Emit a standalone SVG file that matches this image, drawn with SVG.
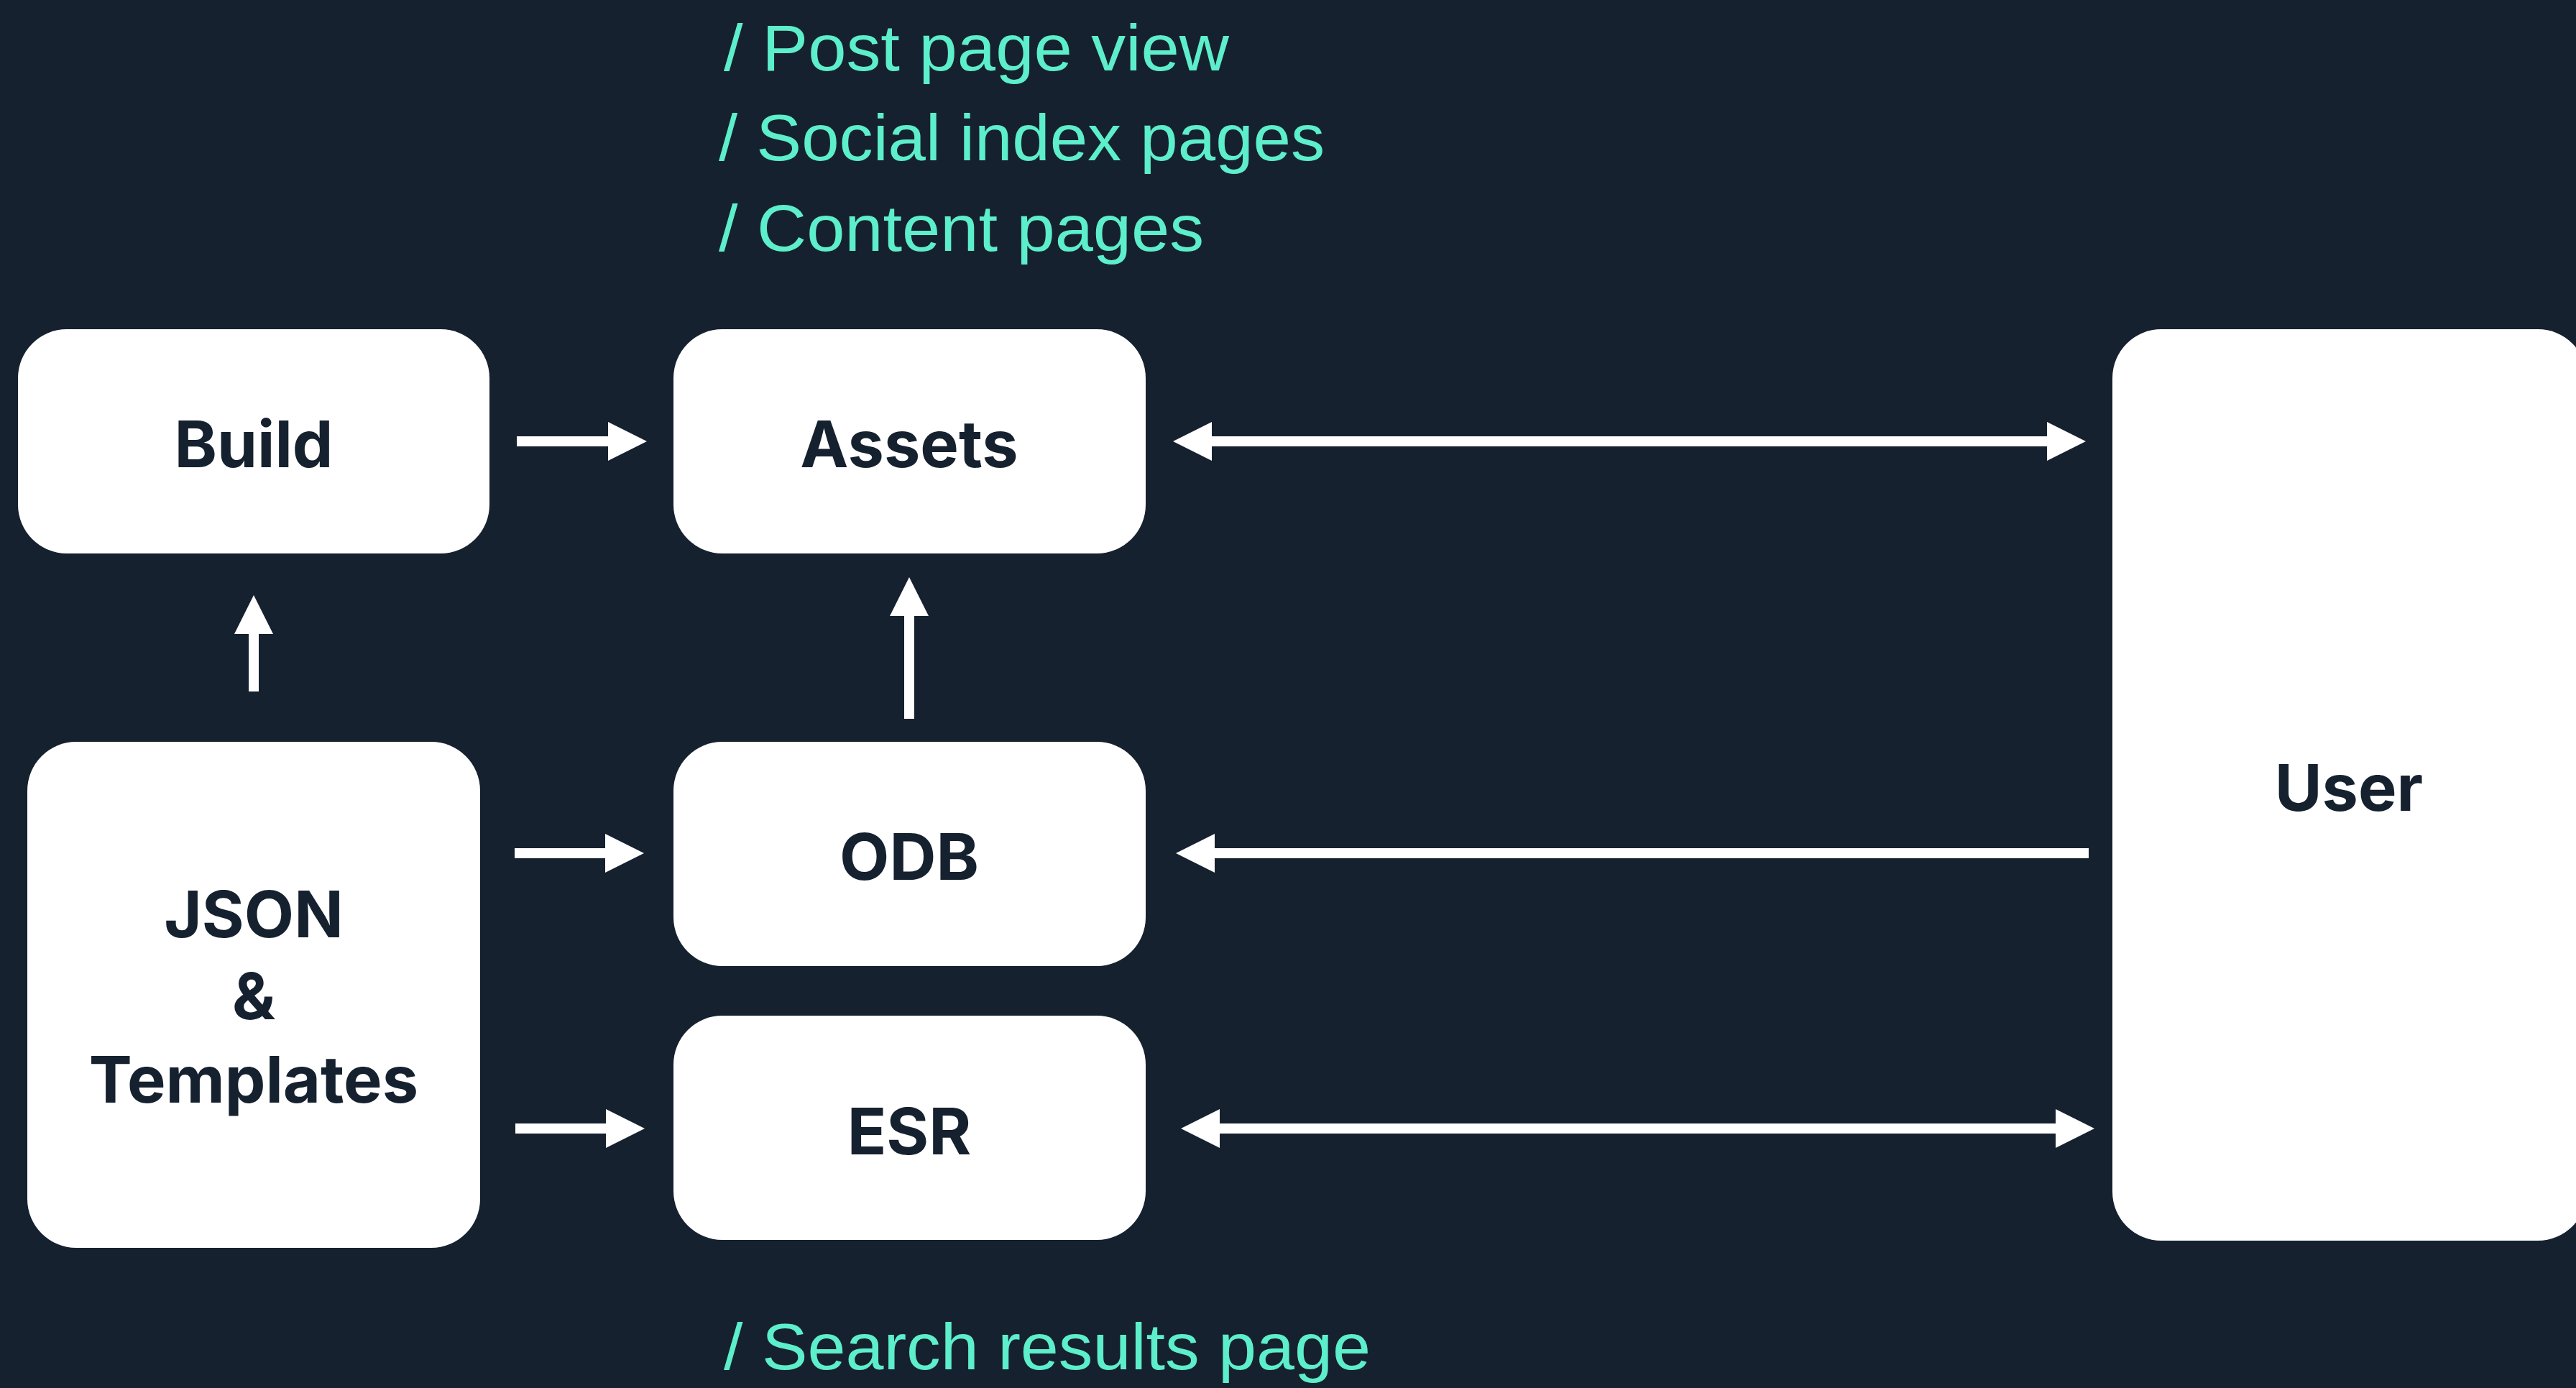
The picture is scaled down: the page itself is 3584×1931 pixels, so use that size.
<svg xmlns="http://www.w3.org/2000/svg" width="3584" height="1931" viewBox="0 0 3584 1931">
<style>
.node rect{fill:#ffffff}
.node text{fill:#16212f;font-family:Inter,"Liberation Sans",sans-serif;font-weight:700;font-size:90px;text-anchor:middle}
.lbl{fill:#5deecb;font-family:"Liberation Sans",Arial,sans-serif;font-size:90px}
.conn path{stroke:#ffffff;stroke-width:14;fill:none}
</style>
<defs>
<marker id="ah" markerUnits="userSpaceOnUse" markerWidth="54" markerHeight="54" refX="0" refY="27" orient="auto-start-reverse" viewBox="0 0 54 54">
<path d="M0,0 L54,27 L0,54 Z" fill="#ffffff"/>
</marker>
</defs>
<rect width="3584" height="1931" fill="#16212f"/>
<g id="labels">
<text class="lbl" x="1007" y="98" textLength="703" lengthAdjust="spacingAndGlyphs">/ Post page view</text>
<text class="lbl" x="1000" y="223" textLength="843" lengthAdjust="spacingAndGlyphs">/ Social index pages</text>
<text class="lbl" x="1000" y="349" textLength="675" lengthAdjust="spacingAndGlyphs">/ Content pages</text>
<text class="lbl" x="1007" y="1905" textLength="900" lengthAdjust="spacingAndGlyphs">/ Search results page</text>
</g>
<g id="build" class="node"><rect x="25" y="458" width="656" height="312" rx="68"/><text x="353" y="650">Build</text></g>
<g id="assets" class="node"><rect x="937" y="458" width="657" height="312" rx="68"/><text x="1265" y="650">Assets</text></g>
<g id="json" class="node"><rect x="38" y="1032" width="630" height="704" rx="68"/><text x="353" y="1304">JSON</text><text x="353" y="1418">&amp;</text><text x="353" y="1534">Templates</text></g>
<g id="odb" class="node"><rect x="937" y="1032" width="657" height="312" rx="68"/><text x="1265" y="1224">ODB</text></g>
<g id="esr" class="node"><rect x="937" y="1413" width="657" height="312" rx="68"/><text x="1265" y="1606">ESR</text></g>
<g id="user" class="node"><rect x="2939" y="458" width="660" height="1268" rx="68"/><text x="3268" y="1128">User</text></g>
<g id="connectors" class="conn">
<path d="M719,614 H846" marker-end="url(#ah)"/>
<path d="M353,962 V882" marker-end="url(#ah)"/>
<path d="M1265,1000 V857" marker-end="url(#ah)"/>
<path d="M716,1187 H842" marker-end="url(#ah)"/>
<path d="M717,1570 H843" marker-end="url(#ah)"/>
<path d="M1686,614 H2848" marker-start="url(#ah)" marker-end="url(#ah)"/>
<path d="M2906,1187 H1690" marker-end="url(#ah)"/>
<path d="M1697,1570 H2860" marker-start="url(#ah)" marker-end="url(#ah)"/>
</g>
</svg>
